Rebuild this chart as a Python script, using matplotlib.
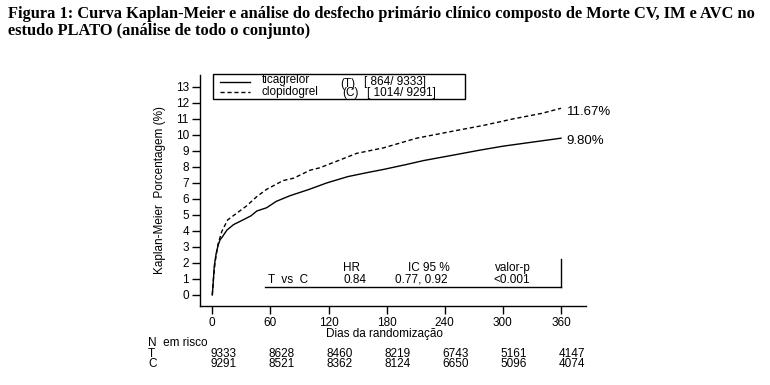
import matplotlib
matplotlib.use("Agg")
import matplotlib.pyplot as plt
from matplotlib.lines import Line2D
import matplotlib.transforms as mtrans

# ---- data ----
tica_days = [0, 1, 2, 4, 6, 8, 10, 15, 22, 32, 40, 46, 56, 66, 80, 90, 100, 118, 140, 160, 177, 200, 218, 245, 276, 300, 330, 360]
tica_vals = [0, 0.8, 1.8, 2.6, 3.1, 3.45, 3.6, 4.05, 4.4, 4.7, 4.95, 5.25, 5.45, 5.85, 6.2, 6.4, 6.6, 7.0, 7.4, 7.65, 7.85, 8.15, 8.4, 8.7, 9.05, 9.3, 9.55, 9.8]
clop_days = [0, 1, 3, 6, 10, 16, 25, 35, 46, 56, 73, 84, 101, 111, 128, 149, 177, 211, 245, 280, 310, 340, 360]
clop_vals = [0, 0.9, 2.1, 3.2, 4.0, 4.7, 5.1, 5.55, 6.15, 6.6, 7.15, 7.3, 7.8, 7.95, 8.35, 8.85, 9.2, 9.8, 10.2, 10.6, 11.0, 11.35, 11.67]
x_ticks = [0, 60, 120, 180, 240, 300, 360]
y_ticks = list(range(0, 14))
risk_T = [9333, 8628, 8460, 8219, 6743, 5161, 4147]
risk_C = [9291, 8521, 8362, 8124, 6650, 5096, 4074]
end_labels = ["11.67%", "9.80%"]

W, H = 770, 385
fig = plt.figure(figsize=(W / 100, H / 100), dpi=100)
plt.rcParams['font.family'] = ['Liberation Sans', 'DejaVu Sans']
FS = 8.5

# overlay in pixel coordinates for annotations
ov = fig.add_axes([0, 0, 1, 1])
ov.set_xlim(0, W)
ov.set_ylim(H, 0)
ov.axis('off')

# main axes
L, R, T, B = 200, 586, 75, 306
ax = fig.add_axes([L / W, 1 - B / H, (R - L) / W, (B - T) / H])
ax.set_xlim(-12.7, 385.8)
ax.set_ylim(-0.69, 13.75)
for s in ['top', 'right']:
    ax.spines[s].set_visible(False)
for s in ['left', 'bottom']:
    ax.spines[s].set_linewidth(1.0)
ax.set_xticks(x_ticks)
ax.set_yticks(y_ticks)
ax.tick_params(direction='out', length=6, width=1, labelsize=FS, pad=2)
ax.tick_params(axis='x', pad=2)
ax.patch.set_alpha(0)

ax.plot(tica_days, tica_vals, color='black', lw=1.0, ls='-')
ax.plot(clop_days, clop_vals, color='black', lw=1.0, ls=(0, (3, 2)))

ax.annotate(end_labels[0], (clop_days[-1], clop_vals[-1]), xytext=(4, -3),
            textcoords='offset points', fontsize=FS + 1, va='center', ha='left')
ax.annotate(end_labels[1], (tica_days[-1], tica_vals[-1]), xytext=(4, -2),
            textcoords='offset points', fontsize=FS + 1, va='center', ha='left')

ax.set_ylabel("Kaplan-Meier  Porcentagem (%)", fontsize=FS, labelpad=7)
ov.text(385, 334.5, "Dias da randomização", fontsize=FS, va='center', ha='center')

# title
fig.text(8 / W, 1 - 14 / H,
         "Figura 1: Curva Kaplan-Meier e análise do desfecho primário clínico composto de Morte CV, IM e AVC no",
         family='Liberation Serif', fontweight='bold', fontsize=11.8, va='center', ha='left')
fig.text(8 / W, 1 - 31 / H, "estudo PLATO (análise de todo o conjunto)",
         family='Liberation Serif', fontweight='bold', fontsize=11.8, va='center', ha='left')

# legend box
ov.add_patch(plt.Rectangle((213, 74), 252, 25, fill=False, lw=1.0, ec='black'))
ov.add_line(Line2D([220, 250], [82, 82], color='black', lw=1.0))
ov.add_line(Line2D([220, 250], [92, 92], color='black', lw=1.0, ls=(0, (3, 2))))
ov.text(262, 80.5, "ticagrelor", fontsize=FS, va='center', ha='left')
ov.text(262, 91.5, "clopidogrel", fontsize=FS, va='center', ha='left')
ov.text(340, 84, "(T)", fontsize=FS, va='center', ha='left')
ov.text(364, 82, "[ 864/ 9333]", fontsize=FS, va='center', ha='left')
ov.text(342, 93, "(C)", fontsize=FS, va='center', ha='left')
ov.text(367, 93, "[ 1014/ 9291]", fontsize=FS, va='center', ha='left')

# statistics table
ov.add_line(Line2D([265, 561], [287, 287], color='black', lw=1.0))
ov.add_line(Line2D([561, 561], [259, 287], color='black', lw=1.0))
ov.text(343, 268, "HR", fontsize=FS, va='center', ha='left')
ov.text(408, 268, "IC 95 %", fontsize=FS, va='center', ha='left')
ov.text(495, 268, "valor-p", fontsize=FS, va='center', ha='left')
ov.text(268, 280, "T  vs  C", fontsize=FS, va='center', ha='left')
ov.text(344, 280, "0.84", fontsize=FS, va='center', ha='left')
ov.text(395, 280, "0.77, 0.92", fontsize=FS, va='center', ha='left')
ov.text(493, 280, "<0.001", fontsize=FS, va='center', ha='left')

# number at risk
ov.text(148, 343, "N  em risco", fontsize=FS, va='center', ha='left')
ov.text(148, 354, "T", fontsize=FS, va='center', ha='left')
ov.text(148, 364, "C", fontsize=FS, va='center', ha='left')
blend = mtrans.blended_transform_factory(ax.transData, ov.transData)
shift = mtrans.ScaledTranslation(11 / 100, 0, fig.dpi_scale_trans)
for d, t, c in zip(x_ticks, risk_T, risk_C):
    ov.text(d, 354, str(t), fontsize=FS, va='center', ha='center', transform=blend + shift)
    ov.text(d, 364, str(c), fontsize=FS, va='center', ha='center', transform=blend + shift)

fig.savefig("out.png", dpi=100)
